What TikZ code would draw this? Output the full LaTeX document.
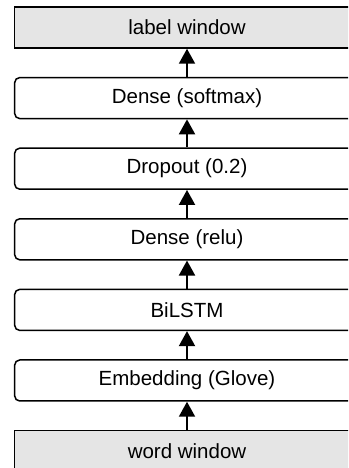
\documentclass[tikz,border=0pt]{standalone}
\usepackage{fontspec}
\setmainfont{Liberation Sans}
\usetikzlibrary{arrows.meta}

\definecolor{iofill}{HTML}{E5E5E5}

\tikzset{
  x=1pt, y=1pt,
  layer/.style={draw=black, line width=1.5pt, rounded corners=5pt, fill=white,
    minimum width=344.6pt, minimum height=41pt, inner sep=0pt,
    font=\fontsize{20.5}{24}\selectfont},
  iobox/.style={layer, rounded corners=0pt, fill=iofill},
  flow/.style={line width=2pt, -{Triangle[length=15pt,width=16pt]}},
}

\begin{document}
\begin{tikzpicture}
  \useasboundingbox (0,0) rectangle (348,468);
  \clip (0,0) rectangle (348,468);

  % network layers, bottom to top
  \node[iobox] (word)  at (187,16.9)  {word window};
  \node[layer] (emb)   at (187,87.5)  {Embedding (Glove)};
  \node[layer] (lstm)  at (187,158.1) {BiLSTM};
  \node[layer] (relu)  at (187,228.7) {Dense (relu)};
  \node[layer] (drop)  at (187,299.3) {Dropout (0.2)};
  \node[layer] (soft)  at (187,369.9) {Dense (softmax)};
  \node[iobox] (label) at (187,440.5) {label window};

  % data flow
  \draw[flow] (word.north) -- (emb.south);
  \draw[flow] (emb.north)  -- (lstm.south);
  \draw[flow] (lstm.north) -- (relu.south);
  \draw[flow] (relu.north) -- (drop.south);
  \draw[flow] (drop.north) -- (soft.south);
  \draw[flow] (soft.north) -- (label.south);
\end{tikzpicture}
\end{document}
